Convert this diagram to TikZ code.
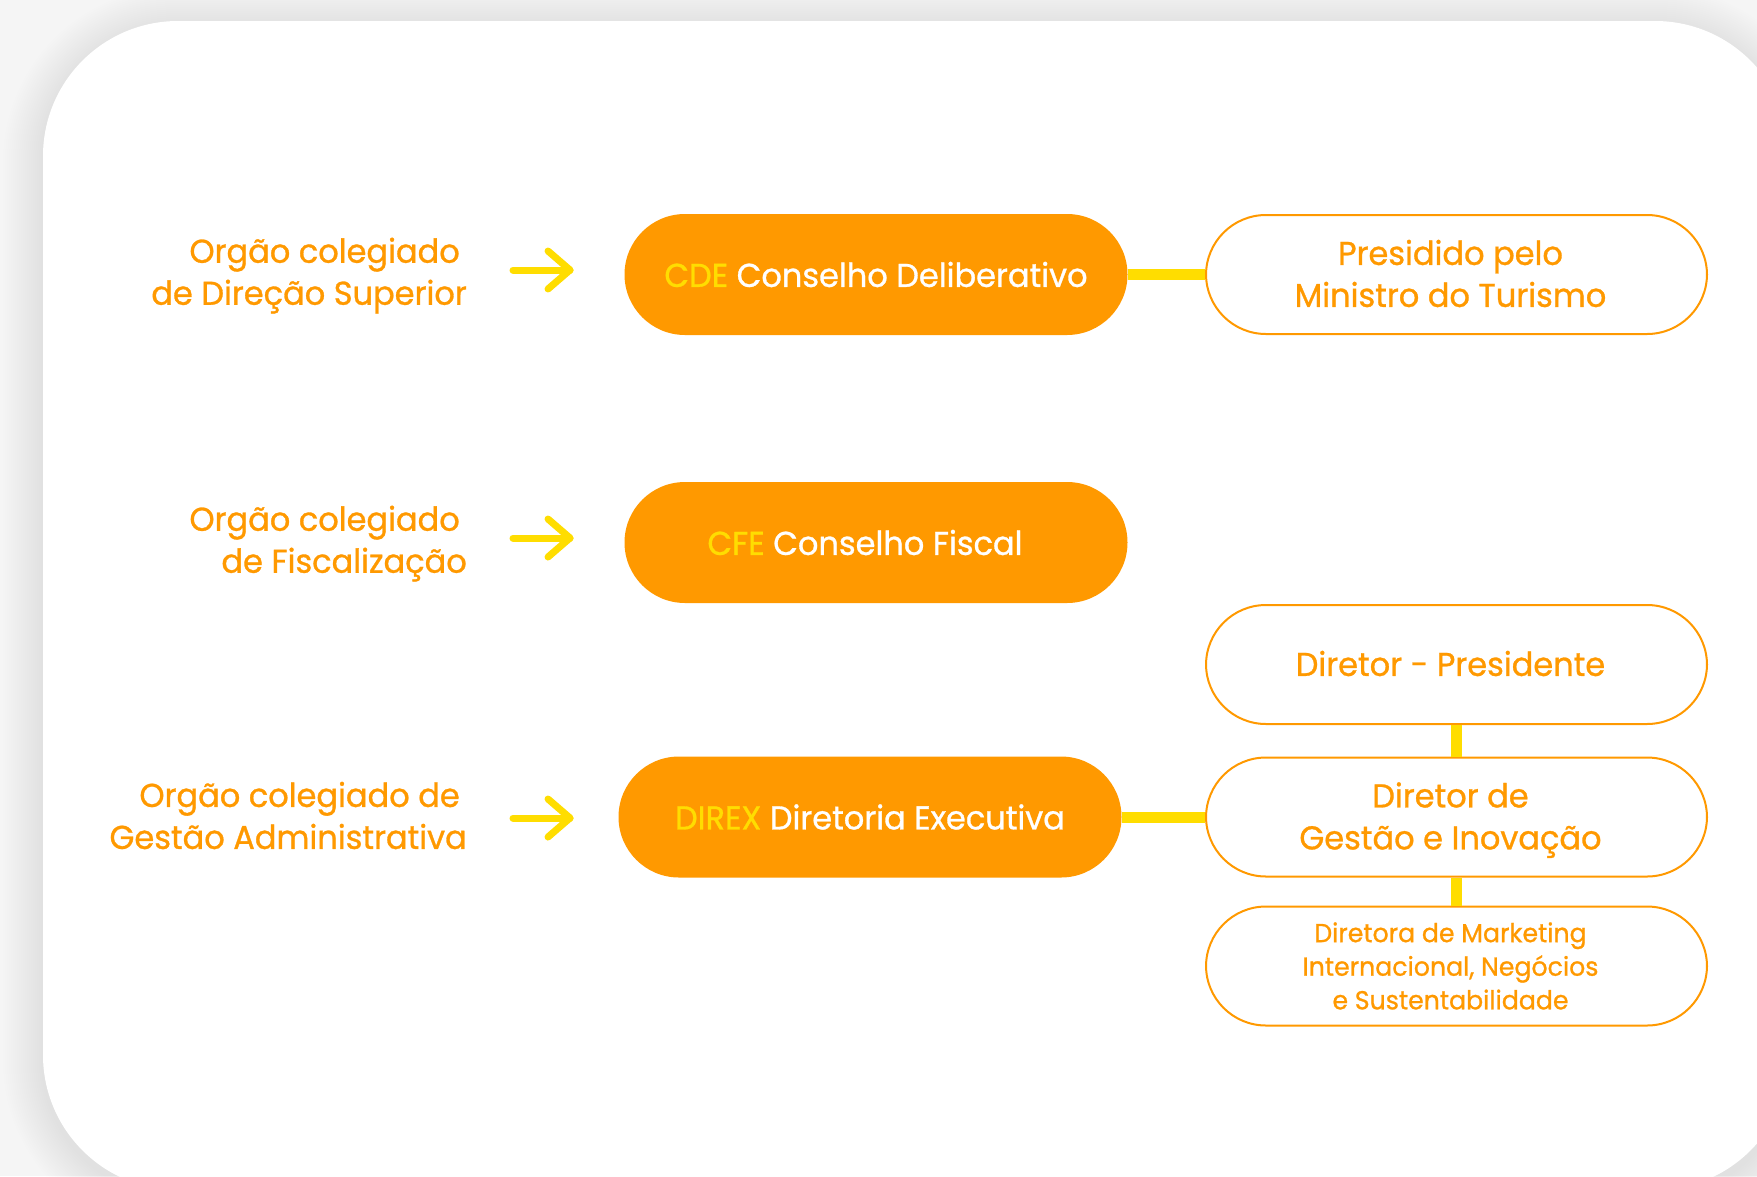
\documentclass[tikz,border=0pt]{standalone}
\usepackage{fontspec}
\setmainfont{Poppins}[FakeBold=0.9, FakeStretch=0.97]
\usetikzlibrary{calc}
\definecolor{orng}{HTML}{FF9900}
\definecolor{yel}{HTML}{FFDD00}
\definecolor{bgc}{HTML}{F5F5F5}
\newcommand\pilltxt[1]{\raisebox{-3pt}[\height][\depth]{\begin{tabular}{@{}c@{}}#1\end{tabular}}\kern12pt}
\tikzset{
  pillfill/.style={rectangle, rounded corners=60.5pt, fill=orng, draw=none,
    minimum width=503pt, minimum height=121pt, text=white, inner sep=0pt,
    font=\fontsize{33}{42}\selectfont},
  pillline/.style={rectangle, rounded corners=60pt, fill=white, draw=orng, line width=2pt,
    minimum width=501pt, minimum height=119pt, text=orng, inner sep=0pt,
    font=\fontsize{33}{42}\selectfont},
  lbl/.style={text=orng, align=right, anchor=east, inner sep=0pt,
    font=\fontsize{33}{42}\selectfont},
  conn/.style={draw=yel, line width=11pt},
  arr/.style={draw=yel, line width=7pt, line cap=round, line join=round},
}
\begin{document}
\begin{tikzpicture}[x=1pt,y=-1pt]
\useasboundingbox (0,0) rectangle (1757,1176);
\begin{scope}
\clip (0,0) rectangle (1757,1176);
\fill[bgc] (0,0) rectangle (1757,1176);
\foreach \k in {1,...,20}{
  \pgfmathsetmacro\rr{135+2*\k}
  \fill[black, opacity=0.0045, rounded corners=\rr pt] (43-2*\k, 27-2*\k) rectangle (1790+2*\k, 1196+2*\k);
}
\fill[white, rounded corners=135pt] (43,21) rectangle (1790,1190);
\end{scope}

% left labels
\node[lbl] (l1) at (467,275.5) {Orgão colegiado\kern7pt\\de Direção Superior};
\node[lbl] (l2) at (467,543.5) {Orgão colegiado\kern7pt\\de Fiscalização};
\node[lbl] (l3) at (467,815.5) {Orgão colegiado de\kern7pt\\Gestão Administrativa};

% pills
\node[pillfill] (cde) at (876,274.5) {{\color{yel}CDE} Conselho Deliberativo};
\node[pillline] (pres) at (1456.5,274.5) {\pilltxt{Presidido pelo\\Ministro do Turismo}};
\node[pillfill] (cfe) at (876,542.5) {{\color{yel}CFE} Conselho Fiscal\kern22pt};
\node[pillline] (dp) at (1456.5,664.5) {\pilltxt{Diretor - Presidente}};
\node[pillline] (dgi) at (1456.5,817) {\pilltxt{Diretor de\\Gestão e Inovação}};
\node[pillfill] (direx) at (870,817) {{\color{yel}DIREX} Diretoria Executiva};
\node[pillline, font=\fontsize{26}{33.6}\selectfont] (dmk) at (1456.5,966) {\pilltxt{Diretora de Marketing\\Internacional, Negócios\\e Sustentabilidade}};

% connectors
\draw[conn] (cde.east) -- (pres.west);
\draw[conn] (direx.east) -- (dgi.west);
\draw[conn] (dp.south) -- (dgi.north);
\draw[conn] (dgi.south) -- (dmk.north);

% arrows
\foreach \n/\y in {1/270, 2/538, 3/818}{
  \coordinate (a\n s) at (513,\y);
  \coordinate (a\n e) at (570,\y);
  \draw[arr] (a\n s) -- (a\n e);
  \draw[arr] ($(a\n e)+(-22,-19)$) -- (a\n e) -- ($(a\n e)+(-22,19)$);
}
\end{tikzpicture}
\end{document}
